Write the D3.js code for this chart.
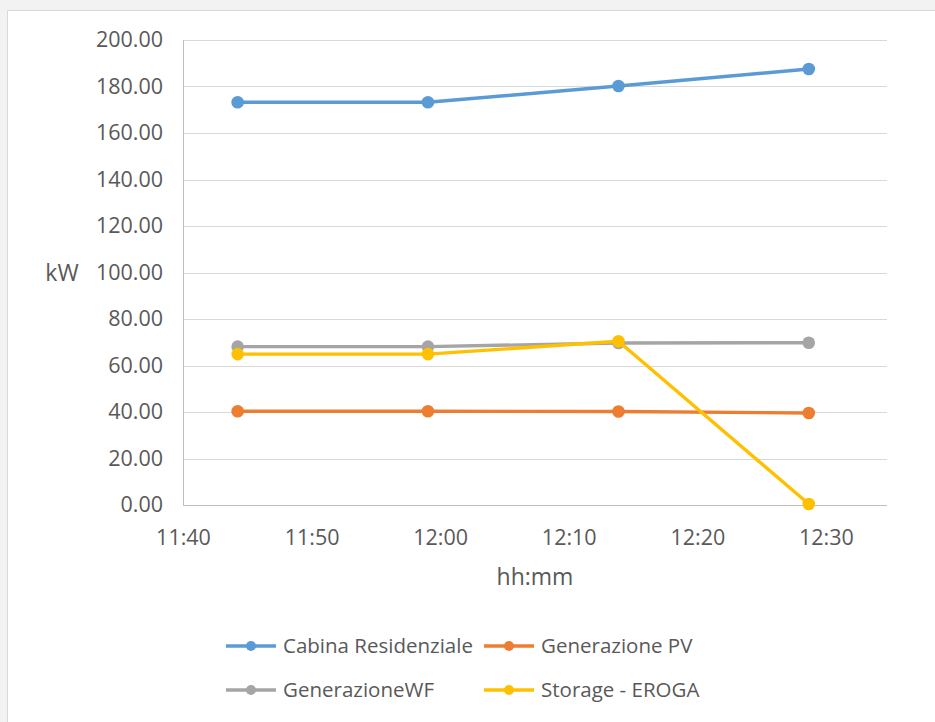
<!DOCTYPE html>
<html><head><meta charset="utf-8">
<script src="https://cdn.jsdelivr.net/npm/d3@7/dist/d3.min.js"></script>
<style>
html,body{margin:0;padding:0;background:#f2f2f2;}
svg{display:block;}
text{font-family:"Open Sans",sans-serif;fill:#595959;}
</style></head><body>
<script>
// ---- data ----
const times = ["11:44:15", "11:59:03", "12:13:52", "12:28:40"];
const seriesNames = ["Cabina Residenziale", "Generazione PV", "GenerazioneWF", "Storage - EROGA"];
const cabina = [173.2, 173.2, 180.2, 187.5];
const genPV = [40.3, 40.3, 40.2, 39.6];
const genWF = [68.1, 68.1, 69.7, 69.8];
const storage = [64.9, 64.9, 70.4, 0.4];
const colors = ["#5B9BD5", "#ED7D31", "#A5A5A5", "#FFC000"];
const yTicks = [0, 20, 40, 60, 80, 100, 120, 140, 160, 180, 200];
const xTickLabels = ["11:40", "11:50", "12:00", "12:10", "12:20", "12:30"];
const xDomain = ["11:40:00", "12:34:45"];

const parse = d3.timeParse("%H:%M:%S");
const parseHM = d3.timeParse("%H:%M");
const W = 935, H = 722;
const svg = d3.select("body").append("svg").attr("width", W).attr("height", H);

svg.append("rect").attr("x", 7.5).attr("y", 10.5).attr("width", W).attr("height", H)
  .attr("fill", "#fff").attr("stroke", "#d9d9d9");

const pLeft = 183, pRight = 887, pTop = 40, pBottom = 505;
const x = d3.scaleTime().domain(xDomain.map(parse)).range([pLeft, pRight]);
const y = d3.scaleLinear().domain([0, 200]).range([pBottom, pTop]);

// gridlines
svg.append("g").selectAll("line").data(yTicks.filter(d => d > 0)).join("line")
  .attr("x1", pLeft).attr("x2", pRight)
  .attr("y1", d => Math.round(y(d)) + 0.5).attr("y2", d => Math.round(y(d)) + 0.5)
  .attr("stroke", "#d9d9d9").attr("stroke-width", 1);

// axes
const yAxis = svg.append("g").attr("transform", `translate(${pLeft},0)`)
  .call(d3.axisLeft(y).tickValues(yTicks).tickFormat(d3.format(".2f")).tickSize(0).tickPadding(20));
yAxis.select(".domain").remove();
yAxis.selectAll("text").style("font-size", "21.5px").attr("fill", "#595959").attr("font-family", "Open Sans");

const xAxis = svg.append("g").attr("transform", `translate(0,${pBottom})`)
  .call(d3.axisBottom(x).tickValues(xTickLabels.map(parseHM)).tickFormat(d3.timeFormat("%H:%M")).tickSize(0).tickPadding(25));
xAxis.select(".domain").remove();
xAxis.selectAll("text").style("font-size", "21.5px").attr("fill", "#595959").attr("font-family", "Open Sans");

svg.append("line").attr("x1", pLeft + 0.5).attr("x2", pLeft + 0.5).attr("y1", pTop).attr("y2", pBottom)
  .attr("stroke", "#bfbfbf");
svg.append("line").attr("x1", pLeft).attr("x2", pRight).attr("y1", pBottom + 0.5).attr("y2", pBottom + 0.5)
  .attr("stroke", "#bfbfbf");

// axis titles
svg.append("text").attr("x", 62).attr("y", 281).attr("text-anchor", "middle")
  .style("font-size", "23px").text("kW");
svg.append("text").attr("x", 535).attr("y", 585).attr("text-anchor", "middle")
  .style("font-size", "23px").text("hh:mm");

// series
const allSeries = [cabina, genPV, genWF, storage];
const tDates = times.map(parse);
const line = d3.line().x(d => x(d.t)).y(d => y(d.v));
allSeries.forEach((vals, i) => {
  const pts = vals.map((v, j) => ({t: tDates[j], v}));
  const g = svg.append("g");
  g.append("path").datum(pts).attr("d", line).attr("fill", "none")
    .attr("stroke", colors[i]).attr("stroke-width", 3.4).attr("stroke-linejoin", "round");
  g.selectAll("circle").data(pts).join("circle")
    .attr("cx", d => x(d.t)).attr("cy", d => y(d.v)).attr("r", 6.3).attr("fill", colors[i]);
});

// legend
const legPos = [[226, 646], [484, 646], [226, 690], [484, 690]];
seriesNames.forEach((name, i) => {
  const [lx, ly] = legPos[i];
  const g = svg.append("g").attr("transform", `translate(${lx},${ly})`);
  g.append("line").attr("x1", 0).attr("x2", 50).attr("y1", 0).attr("y2", 0)
    .attr("stroke", colors[i]).attr("stroke-width", 3.4);
  g.append("circle").attr("cx", 25).attr("cy", 0).attr("r", 5).attr("fill", colors[i]);
  g.append("text").attr("x", 57).attr("y", 0).attr("dy", "0.35em")
    .style("font-size", "20.5px").text(name);
});
</script>
</body></html>
